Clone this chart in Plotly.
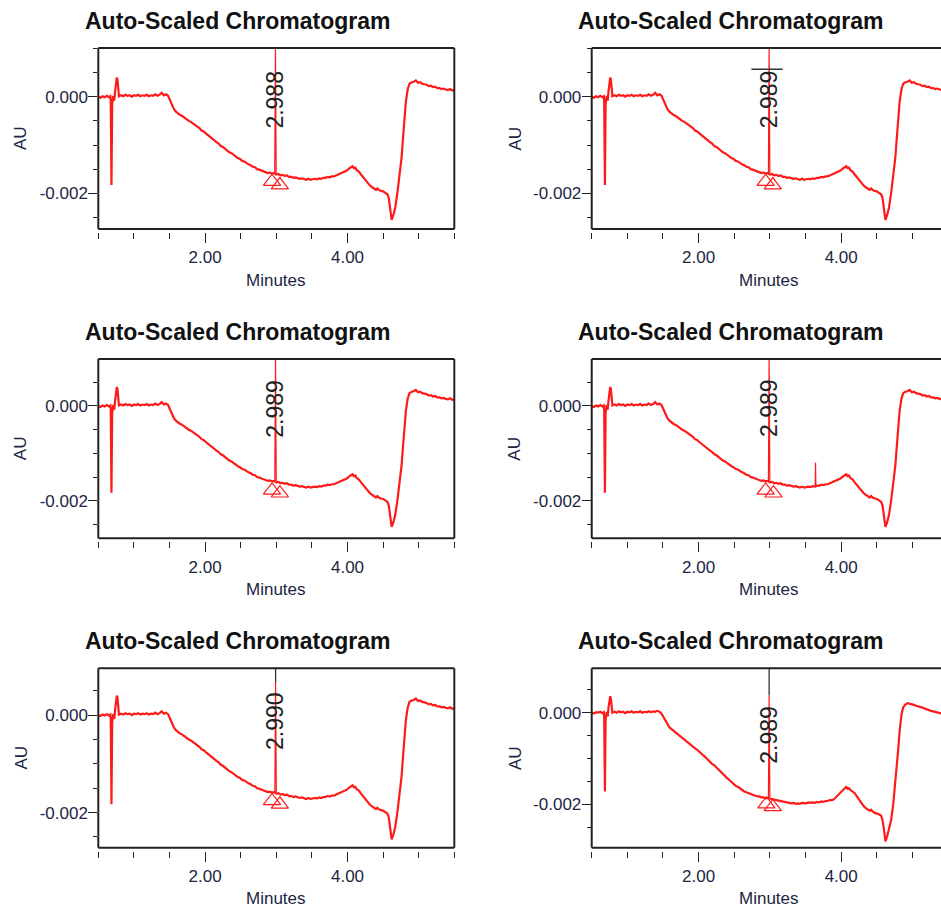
import plotly.graph_objects as go

W, H = 941, 910
FONT = "Liberation Sans, Arial, sans-serif"
TICK_COLOR = "#1c2542"

# ---------------- data (time in minutes, signal in mAU = 1e-3 AU) ----------------
time_min = [0.50, 0.53, 0.56, 0.59, 0.62, 0.65, 0.67, 0.675, 0.685, 0.695, 0.71, 0.725, 0.735, 0.75, 0.76,
            0.77, 0.78, 0.79, 0.82, 0.85, 0.88, 0.91, 0.94, 0.97, 1.00, 1.03, 1.06, 1.09, 1.12, 1.15,
            1.18, 1.21, 1.24, 1.27, 1.30, 1.33, 1.36, 1.39, 1.42, 1.45, 1.48, 1.50, 1.53, 1.56, 1.59,
            1.62, 1.65, 1.68, 1.71, 1.74, 1.77, 1.80, 1.83, 1.86, 1.89, 1.92, 1.95, 1.98, 2.01, 2.04,
            2.07, 2.10, 2.13, 2.16, 2.19, 2.22, 2.25, 2.28, 2.31, 2.34, 2.37, 2.40, 2.43, 2.46, 2.49,
            2.52, 2.55, 2.58, 2.61, 2.64, 2.67, 2.70, 2.73, 2.76, 2.79, 2.82, 2.85, 2.88, 2.91, 2.94,
            2.97, 3.00, 3.03, 3.06, 3.09, 3.12, 3.15, 3.18, 3.21, 3.24, 3.27, 3.30, 3.33, 3.36, 3.39,
            3.42, 3.45, 3.48, 3.51, 3.54, 3.57, 3.60, 3.63, 3.66, 3.69, 3.72, 3.75, 3.78, 3.81, 3.84,
            3.87, 3.90, 3.93, 3.96, 3.99, 4.02, 4.05, 4.07, 4.09, 4.11, 4.13, 4.16, 4.19, 4.22, 4.25,
            4.28, 4.31, 4.34, 4.37, 4.40, 4.42, 4.44, 4.47, 4.50, 4.53, 4.56, 4.58, 4.60, 4.62, 4.645,
            4.67, 4.70, 4.73, 4.76, 4.78, 4.80, 4.82, 4.845, 4.87, 4.90, 4.93, 4.96, 4.99, 5.02, 5.05,
            5.08, 5.11, 5.14, 5.17, 5.20, 5.23, 5.26, 5.29, 5.32, 5.35, 5.38, 5.41, 5.44, 5.47, 5.50]

# panels 1-5 (nearly identical injections)
signal_mau = [0.00, -0.02, 0.01, -0.01, 0.02, -0.01, 0.01, -0.08, -1.83, -0.15, 0.02, -0.08, 0.10, 0.33, 0.40,
              0.35, 0.05, 0.01, 0.03, 0.01, 0.04, 0.02, 0.03, 0.00, 0.03, 0.02, 0.04, 0.01, 0.03, 0.02,
              0.04, 0.01, 0.03, 0.02, 0.05, 0.02, 0.04, 0.08, 0.03, 0.05, 0.02, -0.05, -0.15, -0.25, -0.31,
              -0.35, -0.38, -0.40, -0.44, -0.46, -0.50, -0.52, -0.55, -0.58, -0.62, -0.65, -0.70, -0.72, -0.76, -0.80,
              -0.83, -0.87, -0.90, -0.94, -0.97, -1.02, -1.04, -1.08, -1.11, -1.15, -1.17, -1.21, -1.23, -1.27, -1.29,
              -1.33, -1.34, -1.38, -1.40, -1.42, -1.45, -1.46, -1.50, -1.51, -1.53, -1.55, -1.56, -1.58, -1.57, -1.59,
              -1.58, -1.61, -1.60, -1.63, -1.62, -1.64, -1.63, -1.66, -1.66, -1.68, -1.67, -1.69, -1.70, -1.69, -1.71,
              -1.72, -1.70, -1.72, -1.71, -1.70, -1.71, -1.69, -1.70, -1.68, -1.68, -1.66, -1.67, -1.65, -1.65, -1.63,
              -1.62, -1.60, -1.58, -1.55, -1.53, -1.49, -1.46, -1.44, -1.48, -1.47, -1.52, -1.55, -1.61, -1.67, -1.73,
              -1.78, -1.83, -1.87, -1.91, -1.93, -1.90, -1.93, -1.95, -1.96, -1.99, -2.02, -2.10, -2.30, -2.55, -2.45,
              -2.30, -2.00, -1.65, -1.25, -0.85, -0.40, -0.10, 0.15, 0.27, 0.30, 0.31, 0.34, 0.29, 0.30, 0.27,
              0.26, 0.25, 0.22, 0.23, 0.20, 0.21, 0.18, 0.18, 0.16, 0.17, 0.15, 0.14, 0.16, 0.13, 0.14]

# panel 6 (lower mid-run baseline)
signal_mau_6 = [0.00, -0.02, 0.01, 0.00, 0.02, -0.01, 0.01, -0.08, -1.72, -0.15, 0.02, -0.08, 0.10, 0.30, 0.36,
                0.30, 0.04, 0.00, 0.02, 0.00, 0.03, 0.01, 0.02, -0.01, 0.02, 0.01, 0.03, 0.00, 0.02, 0.01,
                0.03, 0.00, 0.02, 0.01, 0.03, 0.01, 0.03, 0.02, 0.04, 0.02, -0.02, -0.08, -0.17, -0.26, -0.32,
                -0.36, -0.40, -0.44, -0.47, -0.52, -0.55, -0.59, -0.63, -0.67, -0.70, -0.74, -0.78, -0.81, -0.86, -0.90,
                -0.94, -0.98, -1.03, -1.07, -1.12, -1.15, -1.20, -1.25, -1.29, -1.34, -1.38, -1.43, -1.47, -1.52, -1.55,
                -1.60, -1.62, -1.66, -1.68, -1.72, -1.74, -1.76, -1.78, -1.80, -1.81, -1.83, -1.83, -1.85, -1.85, -1.87,
                -1.86, -1.88, -1.89, -1.90, -1.91, -1.92, -1.93, -1.94, -1.95, -1.96, -1.96, -1.98, -1.97, -1.99, -1.98,
                -1.99, -1.97, -1.98, -1.98, -1.96, -1.97, -1.96, -1.97, -1.95, -1.96, -1.94, -1.95, -1.93, -1.93, -1.91,
                -1.91, -1.89, -1.84, -1.79, -1.73, -1.68, -1.64, -1.62, -1.66, -1.65, -1.69, -1.72, -1.76, -1.83, -1.90,
                -1.97, -2.03, -2.08, -2.11, -2.14, -2.12, -2.16, -2.19, -2.20, -2.22, -2.25, -2.35, -2.55, -2.81, -2.70,
                -2.55, -2.35, -2.00, -1.55, -1.20, -0.80, -0.40, -0.05, 0.12, 0.18, 0.21, 0.20, 0.18, 0.17, 0.15,
                0.14, 0.12, 0.11, 0.09, 0.07, 0.06, 0.04, 0.03, 0.02, 0.00, -0.01, -0.02, -0.03, -0.02, -0.04]

panel_title = "Auto-Scaled Chromatogram"
peak_labels = ["2.988", "2.989", "2.989", "2.989", "2.990", "2.989"]
peak_rt = [2.988, 2.989, 2.989, 2.989, 2.990, 2.989]
peak_apex_mau = [1.05, 1.05, 1.05, 1.05, 0.68, 0.38]
peak_foot_mau = [-1.58, -1.58, -1.58, -1.58, -1.58, -1.86]
peak_halfwidth_min = 0.010
label_center_mau = [-0.05, -0.05, -0.07, -0.04, -0.13, -0.48]
tri_time = [[2.94, 3.05], [2.94, 3.04], [2.94, 3.05], [2.94, 3.05], [2.94, 3.05], [2.95, 3.04]]
tri_mau = [[-1.76, -1.83], [-1.76, -1.83], [-1.78, -1.84], [-1.78, -1.84], [-1.76, -1.83], [-2.00, -2.06]]
spike4_time = [3.635, 3.64, 3.645]
spike4_mau = [-1.69, -1.19, -1.69]
bar2_time = [2.74, 3.18]
bar2_mau = 0.57
y_ranges_mau = [[-2.74, 1.01], [-2.74, 1.01], [-2.79, 0.99], [-2.79, 0.99], [-2.72, 0.96], [-2.95, 0.97]]
x_ranges = [[0.5, 5.5], [0.5, 5.4], [0.5, 5.5], [0.5, 5.4], [0.5, 5.5], [0.5, 5.4]]
x_major = [2.0, 4.0]
x_major_text = ["2.00", "4.00"]
y_major_mau = [0.0, -2.0]
y_major_text = ["0.000", "-0.002"]

# ---------------- layout geometry (pixels) ----------------
col_x = [(98.3, 454.3), (591.7, 941.0)]
row_y = [(48.0, 229.0), (359.0, 538.3), (668.3, 847.7)]
title_cx = [237.5, 730.5]
au_cx = [20.5, 515.0]
min_cx = [275.5, 769.0]


def fx(p):
    return p / W


def fy(p):
    return 1 - p / H


def au(v):
    return v * 1e-3


fig = go.Figure()
shapes = []
annotations = []
RED = "#ff1a1a"
FRAME = "#222222"

for i in range(6):
    r, c = divmod(i, 2)
    n = i + 1
    xid, yid = f"x{n}", f"y{n}"
    x0p, x1p = col_x[c]
    ytop, ybot = row_y[r]
    tsig = signal_mau_6 if n == 6 else signal_mau

    fig.add_trace(go.Scatter(x=time_min, y=[au(v) for v in tsig], mode="lines",
                             line=dict(color=RED, width=2.2), xaxis=xid, yaxis=yid,
                             hoverinfo="skip"))
    rt = peak_rt[i]
    fig.add_trace(go.Scatter(x=[rt - peak_halfwidth_min, rt, rt + peak_halfwidth_min],
                             y=[au(peak_foot_mau[i]), au(peak_apex_mau[i]), au(peak_foot_mau[i])],
                             mode="lines", line=dict(color=RED, width=1.2), xaxis=xid, yaxis=yid,
                             hoverinfo="skip"))
    fig.add_trace(go.Scatter(x=tri_time[i], y=[au(v) for v in tri_mau[i]], mode="markers",
                             marker=dict(symbol="triangle-up-open", size=15, color=RED,
                                         line=dict(color=RED, width=1.2)),
                             xaxis=xid, yaxis=yid, hoverinfo="skip"))
    if n == 4:
        fig.add_trace(go.Scatter(x=spike4_time, y=[au(v) for v in spike4_mau], mode="lines",
                                 line=dict(color=RED, width=1.2), xaxis=xid, yaxis=yid,
                                 hoverinfo="skip"))
    if n == 2:
        shapes.append(dict(type="line", xref=xid, yref=yid, x0=bar2_time[0], x1=bar2_time[1],
                           y0=au(bar2_mau), y1=au(bar2_mau), line=dict(color="#333", width=1.5)))
    if n in (5, 6):
        shapes.append(dict(type="line", xref=xid, yref=yid, x0=rt, x1=rt,
                           y0=au(peak_apex_mau[i]), y1=au(y_ranges_mau[i][1]),
                           line=dict(color="#333", width=1.3)))

    # axes
    xkey = "xaxis" if n == 1 else f"xaxis{n}"
    ykey = "yaxis" if n == 1 else f"yaxis{n}"
    fig.layout[xkey] = dict(
        domain=[fx(x0p), fx(x1p)], range=x_ranges[i], anchor="free", position=fy(ybot + 3),
        showline=False, showgrid=False, zeroline=False,
        tickmode="array", tickvals=x_major, ticktext=x_major_text,
        ticks="outside", ticklen=10, tickwidth=1.4, tickcolor=FRAME,
        tickfont=dict(family=FONT, size=17, color=TICK_COLOR),
        minor=dict(tickmode="array", tickvals=[0.5 * k for k in range(1, 12)],
                   ticks="outside", ticklen=6, tickwidth=1.4, tickcolor=FRAME, showgrid=False),
        fixedrange=True,
    )
    ylo, yhi = y_ranges_mau[i]
    fig.layout[ykey] = dict(
        domain=[fy(ybot), fy(ytop)], range=[au(ylo), au(yhi)], anchor=xid,
        showline=False, showgrid=False, zeroline=False,
        tickmode="array", tickvals=[au(v) for v in y_major_mau], ticktext=y_major_text,
        ticks="outside", ticklen=9, tickwidth=1.4, tickcolor=FRAME, ticklabelstandoff=-3,
        tickfont=dict(family=FONT, size=17, color=TICK_COLOR),
        minor=dict(tickmode="array", tickvals=[au(0.5 * k) for k in range(-6, 3)],
                   ticks="outside", ticklen=4, tickwidth=1.4, tickcolor=FRAME, showgrid=False),
        fixedrange=True,
    )

    # frame
    xl, xr = fx(x0p), fx(x1p)
    yt, yb = fy(ytop), fy(ybot)
    fl = dict(color=FRAME, width=2)
    shapes.append(dict(type="line", xref="paper", yref="paper", x0=xl, x1=xr, y0=yt, y1=yt, line=fl))
    shapes.append(dict(type="line", xref="paper", yref="paper", x0=xl, x1=xr, y0=yb, y1=yb, line=fl))
    shapes.append(dict(type="line", xref="paper", yref="paper", x0=xl, x1=xl, y0=yb, y1=yt, line=fl))
    if c == 0:
        shapes.append(dict(type="line", xref="paper", yref="paper", x0=xr, x1=xr, y0=yb, y1=yt, line=fl))

    # texts
    annotations.append(dict(text=f"<b>{panel_title}</b>", xref="paper", yref="paper",
                            x=fx(title_cx[c]), y=fy(ytop - 27), xanchor="center", yanchor="middle",
                            showarrow=False, font=dict(family=FONT, size=23, color="#111")))
    annotations.append(dict(text="AU", xref="paper", yref="paper", x=fx(au_cx[c]),
                            y=fy((ytop + ybot) / 2), xanchor="center", yanchor="middle", textangle=-90,
                            showarrow=False, font=dict(family=FONT, size=17, color=TICK_COLOR)))
    annotations.append(dict(text="Minutes", xref="paper", yref="paper", x=fx(min_cx[c]),
                            y=fy(ybot + 51), xanchor="center", yanchor="middle",
                            showarrow=False, font=dict(family=FONT, size=17, color=TICK_COLOR)))
    annotations.append(dict(text=peak_labels[i], xref=xid, yref=yid, x=rt, y=au(label_center_mau[i]),
                            xanchor="center", yanchor="middle", textangle=-90, showarrow=False,
                            font=dict(family=FONT, size=23, color="#222")))

fig.update_layout(
    width=W, height=H, margin=dict(l=0, r=0, t=0, b=0),
    paper_bgcolor="white", plot_bgcolor="white", showlegend=False,
    shapes=shapes, annotations=annotations,
)

fig.write_html("out.html", config={"displayModeBar": False},
               post_script="document.body.style.margin='0';document.body.style.overflow='hidden';")
